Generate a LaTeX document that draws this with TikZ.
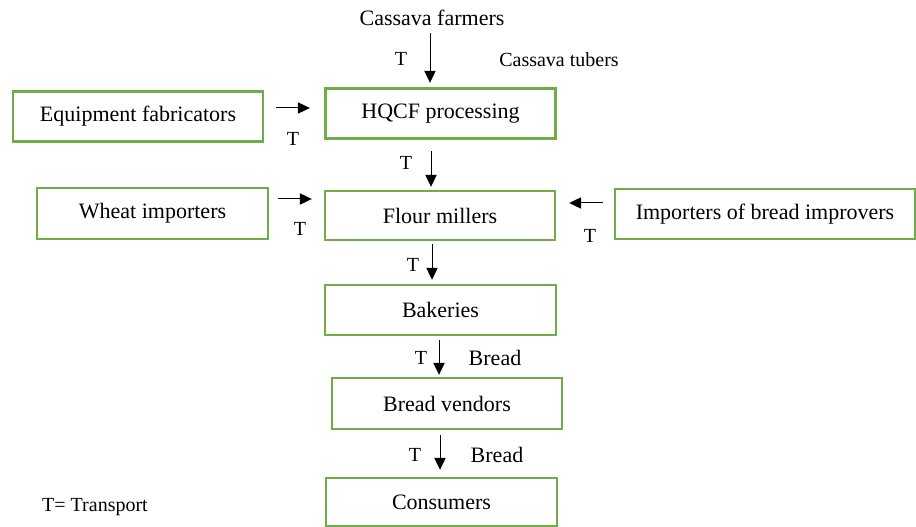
\documentclass[tikz,border=0pt]{standalone}
\usepackage{fontspec}
\setmainfont{Liberation Serif}
\usetikzlibrary{arrows.meta,calc}

\definecolor{boxgreen}{RGB}{112,173,71}

\tikzset{every picture/.style={line width=0.75pt}}
\tikzset{
  actor/.style={draw=boxgreen, line width=1.8pt, inner sep=0pt, align=center, font=\fontsize{16.5}{20}\selectfont},
  flow/.style={-{Triangle[length=9pt,width=8.5pt]}, line width=0.75pt},
  tlabel/.style={inner sep=0pt, font=\fontsize{15}{18}\selectfont},
  biglabel/.style={inner sep=0pt, font=\fontsize{16.5}{20}\selectfont}
}

\begin{document}
\begin{tikzpicture}[x=0.75pt,y=0.75pt,yscale=-1,xscale=1]
		\useasboundingbox (0,0) rectangle (916,527); %set diagram size 916 x 527

		\node [actor, minimum width=187.5pt, minimum height=37.5pt] (fab) at (138,116.5) {Equipment fabricators};
		\node [actor, minimum width=172.5pt, minimum height=37.5pt] (hqcf) at (440.5,113.5) {HQCF processing};
		\node [actor, minimum width=173.25pt, minimum height=38.25pt] (wheat) at (152.5,213.5) {Wheat importers};
		\node [actor, minimum width=172.5pt, minimum height=36.75pt] (flour) at (440,215.5) {Flour millers};
		\node [actor, minimum width=225pt, minimum height=37.5pt] (impr) at (765,214) {Importers of bread improvers};
		\node [actor, minimum width=173.25pt, minimum height=37.5pt] (bakery) at (440.5,310) {Bakeries};
		\node [actor, minimum width=172.5pt, minimum height=38.25pt] (vendor) at (447,403.5) {Bread vendors};
		\node [actor, minimum width=173.25pt, minimum height=36pt] (consumer) at (441.5,502) {Consumers};

		\node [biglabel] (farmers) at (432,18) {Cassava farmers};
		\node [tlabel] (tubers) at (559,60) {Cassava tubers};
		\node [biglabel] (bread1) at (495,358) {Bread};
		\node [biglabel] (bread2) at (497,455) {Bread};
		\node [tlabel] (legend) at (95,507) {T= Transport};

		\draw [flow] ($(farmers.south)+(-2,7)$) -- ($(hqcf.north)+(-10.5,-4.5)$);
		\draw [flow] ($(fab.east)+(12,-8.5)$) -- ($(hqcf.west)+(-14.5,-5.5)$);
		\draw [flow] ($(hqcf.south)+(-9.5,11.5)$) -- ($(flour.north)+(-9,-3)$);
		\draw [flow] ($(wheat.east)+(9,-14.5)$) -- ($(flour.west)+(-12,-16.5)$);
		\draw [flow] ($(impr.west)+(-11,-11)$) -- ($(flour.east)+(13,-12.5)$);
		\draw [flow] ($(flour.south)+(-8,3)$) -- ($(bakery.north)+(-8.5,-4)$);
		\draw [flow] ($(bakery.south)+(-1.5,4)$) -- ($(vendor.north)+(-8,-2)$);
		\draw [flow] ($(vendor.south)+(-7,5)$) -- ($(consumer.north)+(-1.5,-7)$);

		% transport marks
		\node [tlabel] (t1) at (401,59) {T};
		\node [tlabel] (t2) at (293,139) {T};
		\node [tlabel] (t3) at (406,163) {T};
		\node [tlabel] (t4) at (300,229) {T};
		\node [tlabel] (t5) at (590,236) {T};
		\node [tlabel] (t6) at (413,265) {T};
		\node [tlabel] (t7) at (421,358) {T};
		\node [tlabel] (t8) at (415,455) {T};

\end{tikzpicture}
\end{document}
